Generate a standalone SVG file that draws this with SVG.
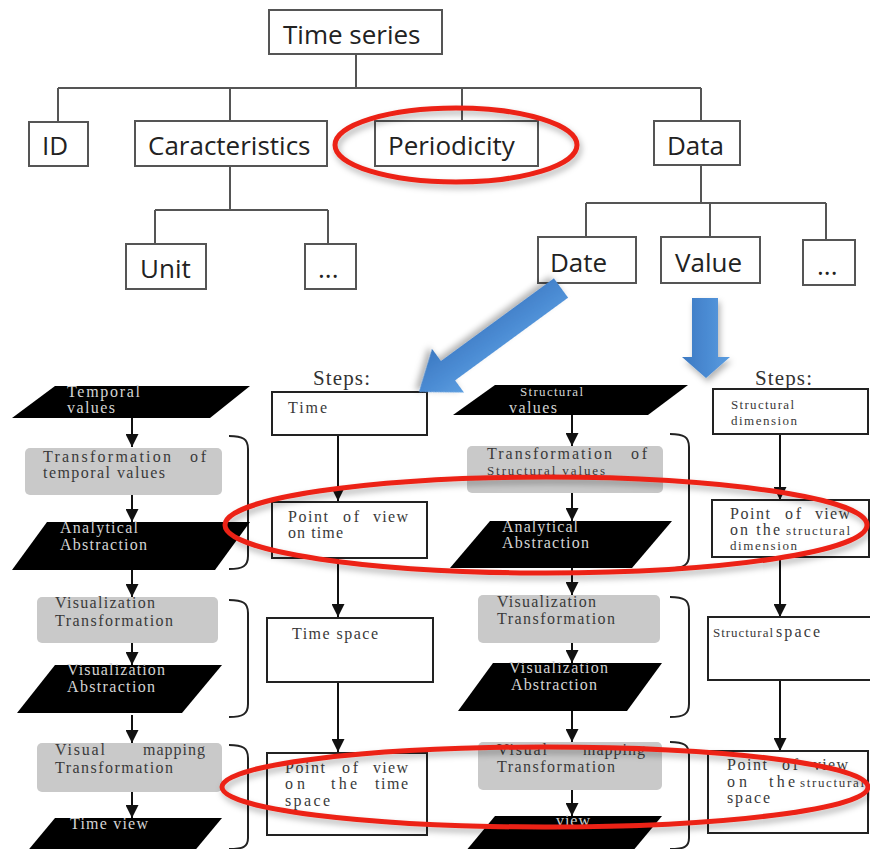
<svg xmlns="http://www.w3.org/2000/svg" width="870" height="849" viewBox="0 0 870 849">
<defs>
<style>
.tb{fill:#fff;stroke:#555;stroke-width:2}
.tt{font-family:"Open Sans","Liberation Sans",sans-serif;font-size:26px;fill:#222}
.tl{fill:none;stroke:#555;stroke-width:2}
.bx{fill:#fff;stroke:#222;stroke-width:2}
.gr{fill:#c9c9c9}
.pg{fill:#000}
.st{font-family:"Liberation Serif","Times New Roman",serif;font-size:16px;fill:#3a3a3a}
.wt{font-family:"Liberation Serif","Times New Roman",serif;font-size:16px;fill:#d4d4d4}
.sm{font-size:13px}
.lg{font-size:21px;fill:#333}
.ln{fill:none;stroke:#111;stroke-width:2;marker-end:url(#ah)}
.br{fill:none;stroke:#222;stroke-width:2}
.ring{fill:none;stroke:#ec2216;stroke-width:5;filter:url(#sh)}
.blue{filter:url(#sh)}
</style>
<marker id="ah" viewBox="0 0 12 12" refX="12" refY="6" markerWidth="14" markerHeight="13" markerUnits="userSpaceOnUse" orient="auto"><path d="M0,0 L12,6 L0,12 z" fill="#111"/></marker>
<filter id="sh" x="-20%" y="-30%" width="140%" height="170%"><feDropShadow dx="2" dy="4" stdDeviation="3" flood-color="#000" flood-opacity="0.3"/></filter>
<linearGradient id="bg" x1="0" y1="0" x2="1" y2="0"><stop offset="0" stop-color="#3c79c2"/><stop offset="0.5" stop-color="#4a8ad2"/><stop offset="1" stop-color="#5b9de0"/></linearGradient>
<linearGradient id="bg2" x1="0" y1="0" x2="0" y2="1"><stop offset="0" stop-color="#5b9de0"/><stop offset="0.5" stop-color="#4a8ad2"/><stop offset="1" stop-color="#3c79c2"/></linearGradient>
</defs>
<rect width="870" height="849" fill="#fff"/>

<g id="tree-connectors">
<path class="tl" d="M356,54 V88 M58,88 H701 M58,88 V122 M230,88 V121 M462,88 V121 M701,88 V121"/>
<path class="tl" d="M230,166 V210 M155,210 H328 M155,210 V244 M328,210 V244"/>
<path class="tl" d="M701,165 V203 M586,203 H826 M586,203 V237 M710,203 V237 M826,203 V240"/>
</g>

<g id="time-series"><rect class="tb" x="269" y="10" width="173" height="44"/><text class="tt" x="283" y="44">Time series</text></g>
<g id="id"><rect class="tb" x="29" y="122" width="59" height="44"/><text class="tt" x="42" y="155">ID</text></g>
<g id="caracteristics"><rect class="tb" x="135" y="121" width="192" height="45"/><text class="tt" x="148" y="155">Caracteristics</text></g>
<g id="periodicity"><rect class="tb" x="375" y="121" width="163" height="45"/><text class="tt" x="388" y="155">Periodicity</text></g>
<g id="data"><rect class="tb" x="654" y="121" width="86" height="44"/><text class="tt" x="667" y="155">Data</text></g>
<g id="unit"><rect class="tb" x="126" y="244" width="80" height="45"/><text class="tt" x="140" y="278">Unit</text></g>
<g id="etc1"><rect class="tb" x="305" y="244" width="51" height="45"/><text class="tt" x="318" y="278">...</text></g>
<g id="date"><rect class="tb" x="538" y="237" width="98" height="46"/><text class="tt" x="550" y="272">Date</text></g>
<g id="value"><rect class="tb" x="661" y="237" width="99" height="46"/><text class="tt" x="675" y="272">Value</text></g>
<g id="etc2"><rect class="tb" x="803" y="240" width="52" height="45"/><text class="tt" x="817" y="275">...</text></g>

<g id="connectors">
<line class="ln" x1="132" y1="418" x2="132" y2="447"/>
<line class="ln" x1="132" y1="495" x2="132" y2="522"/>
<line class="ln" x1="132" y1="570" x2="132" y2="597"/>
<line class="ln" x1="132" y1="643" x2="132" y2="665"/>
<line class="ln" x1="132" y1="715" x2="132" y2="743"/>
<line class="ln" x1="132" y1="792" x2="132" y2="818"/>
<line class="ln" x1="338" y1="435" x2="338" y2="501"/>
<line class="ln" x1="338" y1="558" x2="338" y2="617"/>
<line class="ln" x1="338" y1="682" x2="338" y2="752"/>
<line class="ln" x1="572" y1="415" x2="572" y2="446"/>
<line class="ln" x1="572" y1="493" x2="572" y2="521"/>
<line class="ln" x1="572" y1="568" x2="572" y2="595"/>
<line class="ln" x1="572" y1="643" x2="572" y2="663"/>
<line class="ln" x1="572" y1="711" x2="572" y2="742"/>
<line class="ln" x1="572" y1="790" x2="572" y2="816"/>
<line class="ln" x1="780" y1="434" x2="780" y2="500"/>
<line class="ln" x1="780" y1="557" x2="780" y2="617"/>
<line class="ln" x1="780" y1="680" x2="780" y2="751"/>
<path class="br" d="M229,436 C243,436 248,439 248,449 V556 C248,566 243,569 229,569"/>
<path class="br" d="M229,600 C243,600 248,603 248,613 V704 C248,714 243,717 229,717"/>
<path class="br" d="M229,745 C243,745 248,748 248,758 V838 C248,847 243,849 229,849"/>
<path class="br" d="M670,434 C684,434 689,437 689,447 V555 C689,565 684,568 670,568"/>
<path class="br" d="M670,597 C684,597 689,600 689,610 V704 C689,714 684,717 670,717"/>
<path class="br" d="M670,742 C684,742 689,745 689,755 V838 C689,847 684,849 670,849"/>
</g>

<g id="temporal-values"><polygon class="pg" points="55,386 250,386 210,418 12,418"/><text class="wt" x="67" y="397" textLength="73">Temporal</text><text class="wt" x="67" y="413" textLength="48">values</text></g>
<g id="transf-temporal"><rect class="gr" x="25" y="448" width="197" height="47" rx="5"/><text class="st" x="43" y="462" textLength="128">Transformation</text><text class="st" x="190" y="462" textLength="16">of</text><text class="st" x="43" y="478" textLength="122">temporal values</text></g>
<g id="analytical-1"><polygon class="pg" points="47,522 250,522 215,570 12,570"/><text class="wt" x="60" y="533" textLength="78">Analytical</text><text class="wt" x="60" y="550" textLength="87">Abstraction</text></g>
<g id="vis-transf-1"><rect class="gr" x="37" y="597" width="181" height="46" rx="5"/><text class="st" x="55" y="608" textLength="100">Visualization</text><text class="st" x="55" y="626" textLength="118">Transformation</text></g>
<g id="vis-abs-1"><polygon class="pg" points="55,665 222,665 182,713 17,713"/><text class="wt" x="67" y="675" textLength="98">Visualization</text><text class="wt" x="67" y="692" textLength="88">Abstraction</text></g>
<g id="visual-mapping-1"><rect class="gr" x="37" y="743" width="185" height="49" rx="5"/><text class="st" x="55" y="755" textLength="50">Visual</text><text class="st" x="143" y="755" textLength="62">mapping</text><text class="st" x="55" y="773" textLength="118">Transformation</text></g>
<g id="time-view"><polygon class="pg" points="55,818 222,818 182,866 15,866"/><text class="wt" x="70" y="829" textLength="78">Time view</text></g>

<g id="steps-1"><text class="st lg" x="313" y="385" textLength="57">Steps:</text></g>
<g id="time"><rect class="bx" x="272" y="392" width="155" height="43"/><text class="st" x="288" y="413" textLength="39">Time</text></g>
<g id="pov-time"><rect class="bx" x="272" y="502" width="155" height="56"/><text class="st" x="288" y="522" textLength="40">Point</text><text class="st" x="343" y="522" textLength="16">of</text><text class="st" x="373" y="522" textLength="35">view</text><text class="st" x="288" y="538" textLength="55">on time</text></g>
<g id="time-space"><rect class="bx" x="267" y="618" width="166" height="64"/><text class="st" x="292" y="639" textLength="86">Time space</text></g>
<g id="pov-time-space"><rect class="bx" x="267" y="753" width="160" height="82"/><text class="st" x="285" y="773" textLength="40">Point</text><text class="st" x="342" y="773" textLength="16">of</text><text class="st" x="373" y="773" textLength="35">view</text><text class="st" x="285" y="789" textLength="20">on</text><text class="st" x="331" y="789" textLength="26">the</text><text class="st" x="375" y="789" textLength="33">time</text><text class="st" x="285" y="806" textLength="45">space</text></g>

<g id="structural-values"><polygon class="pg" points="495,385 688,385 648,415 453,415"/><text class="wt sm" x="520" y="396" textLength="63">Structural</text><text class="wt" x="509" y="413" textLength="48">values</text></g>
<g id="transf-structural"><rect class="gr" x="467" y="446" width="196" height="47" rx="5"/><text class="st" x="487" y="459" textLength="125">Transformation</text><text class="st" x="631" y="459" textLength="16">of</text><text class="st sm" x="487" y="475" textLength="118">Structural values</text></g>
<g id="analytical-2"><polygon class="pg" points="490,521 672,521 632,568 450,568"/><text class="wt" x="502" y="532" textLength="76">Analytical</text><text class="wt" x="502" y="548" textLength="87">Abstraction</text></g>
<g id="vis-transf-2"><rect class="gr" x="478" y="595" width="182" height="48" rx="5"/><text class="st" x="497" y="607" textLength="99">Visualization</text><text class="st" x="497" y="624" textLength="118">Transformation</text></g>
<g id="vis-abs-2"><polygon class="pg" points="493,663 662,663 627,711 458,711"/><text class="wt" x="509" y="673" textLength="99">Visualization</text><text class="wt" x="511" y="690" textLength="86">Abstraction</text></g>
<g id="visual-mapping-2"><rect class="gr" x="478" y="742" width="184" height="48" rx="5"/><text class="st" x="497" y="755" textLength="50">Visual</text><text class="st" x="583" y="755" textLength="62">mapping</text><text class="st" x="497" y="772" textLength="118">Transformation</text></g>
<g id="view"><polygon class="pg" points="495,816 662,816 622,864 455,864"/><text class="wt" x="556" y="826" textLength="34">view</text></g>

<g id="steps-2"><text class="st lg" x="755" y="385" textLength="57">Steps:</text></g>
<g id="structural-dimension"><rect class="bx" x="713" y="389" width="155" height="45"/><text class="st sm" x="731" y="409" textLength="63">Structural</text><text class="st sm" x="731" y="425" textLength="66">dimension</text></g>
<g id="pov-structural-dimension"><rect class="bx" x="712" y="500" width="157" height="57"/><text class="st" x="730" y="519" textLength="40">Point</text><text class="st" x="785" y="519" textLength="16">of</text><text class="st" x="815" y="519" textLength="35">view</text><text class="st" x="730" y="535" textLength="50">on the</text><text class="st sm" x="786" y="535" textLength="64">structural</text><text class="st sm" x="730" y="550" textLength="67">dimension</text></g>
<g id="structural-space"><rect class="bx" x="708" y="617" width="170" height="63"/><text class="st sm" x="713" y="637" textLength="60">Structural</text><text class="st" x="776" y="637" textLength="44">space</text></g>
<g id="pov-structural-space"><rect class="bx" x="708" y="751" width="160" height="82"/><text class="st" x="727" y="770" textLength="40">Point</text><text class="st" x="782" y="770" textLength="16">of</text><text class="st" x="813" y="770" textLength="35">view</text><text class="st" x="727" y="787" textLength="20">on</text><text class="st" x="769" y="787" textLength="26">the</text><text class="st sm" x="800" y="787" textLength="64">structural</text><text class="st" x="727" y="803" textLength="43">space</text></g>

<g id="blue-arrows">
<polygon class="blue" transform="translate(561,288) rotate(143.8)" points="0,-12 140,-12 140,-27 176,0 140,27 140,12 0,12" fill="url(#bg2)"/>
<polygon class="blue" points="692,298 718,298 718,357 730,357 706,378 682,357 692,357" fill="url(#bg)"/>
</g>

<g id="highlights">
<ellipse class="ring" cx="456" cy="145" rx="121" ry="37"/>
<ellipse class="ring" cx="546" cy="525" rx="321" ry="48"/>
<ellipse class="ring" cx="545" cy="787" rx="323" ry="40"/>
</g>
</svg>
